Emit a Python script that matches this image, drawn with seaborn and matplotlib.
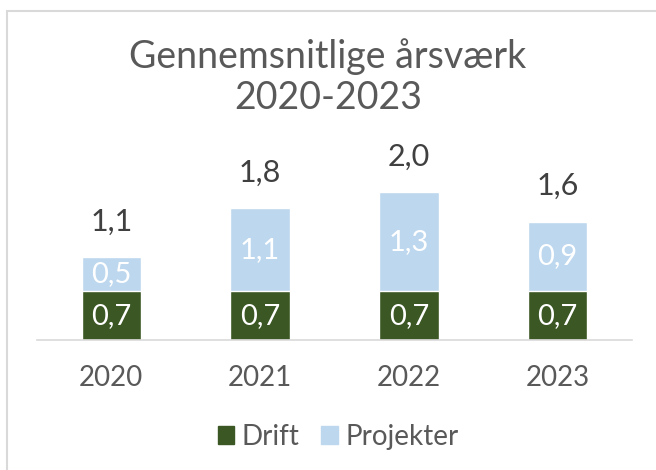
import matplotlib
matplotlib.use("Agg")
import matplotlib.pyplot as plt
import matplotlib.patches as mpatches
import seaborn as sns
import pandas as pd

# Data
years = ["2020", "2021", "2022", "2023"]
drift = [0.66, 0.66, 0.66, 0.66]
projekter = [0.46, 1.12, 1.34, 0.94]

green = "#3a5724"
blue = "#bdd7ee"
grey = "#595959"

sns.set_theme(style="white")
plt.rcParams['font.family'] = ['Lato', 'DejaVu Sans']

df = pd.DataFrame({"year": years, "Drift": drift, "Projekter": projekter})
df["total"] = df["Drift"] + df["Projekter"]

fig = plt.figure(figsize=(6.56, 4.70), dpi=100)
W, H = 656, 470
ax = fig.add_axes([37 / W, (H - 340) / H, (632 - 37) / W, (340 - 150) / H])

# stacked bars: draw totals in blue, then drift in green on top
sns.barplot(data=df, x="year", y="total", color=blue, width=0.4,
            saturation=1, ax=ax)
sns.barplot(data=df, x="year", y="Drift", color=green, width=0.4,
            saturation=1, ax=ax)

ax.set_xlim(-0.5, 3.5)
ax.set_ylim(0, (340 - 150) / 74)
ax.set_xlabel("")
ax.set_ylabel("")
ax.set_yticks([])
for s in ["top", "right", "left"]:
    ax.spines[s].set_visible(False)
ax.spines["bottom"].set_color("#d9d9d9")
ax.spines["bottom"].set_linewidth(1.2)
ax.tick_params(axis="x", length=0, labelsize=20, labelcolor=grey, pad=18)

def fmt(v):
    return f"{v:.1f}".replace(".", ",")

for i, row in df.iterrows():
    ax.text(i, row["Drift"] / 2, fmt(row["Drift"]), ha="center", va="center",
            color="white", fontsize=21)
    ax.text(i, row["Drift"] + row["Projekter"] / 2, fmt(row["Projekter"]),
            ha="center", va="center", color="white", fontsize=21)
    ax.text(i, row["total"] + 0.29, fmt(row["total"]), ha="center",
            va="bottom", color="#404040", fontsize=22)

fig.text(0.5, (H - 77) / H, "Gennemsnitlige årsværk\n2020-2023", ha="center",
         va="center", fontsize=27, color=grey, linespacing=1.15)

handles = [mpatches.Patch(color=green, label="Drift"),
           mpatches.Patch(color=blue, label="Projekter")]
fig.legend(handles=handles, loc="center", bbox_to_anchor=(338 / W, (H - 437) / H),
           ncol=2, frameon=False, handlelength=0.6,
           handleheight=0.6, handletextpad=0.25, columnspacing=0.8,
           labelcolor=grey, prop={"size": 20})

# chart border
fig.add_artist(mpatches.Rectangle((7 / W, -0.1), 1.2, (H - 11) / H + 0.1,
               transform=fig.transFigure, fill=False, edgecolor="#d9d9d9",
               linewidth=1.5))

fig.savefig("out.png", dpi=100)
